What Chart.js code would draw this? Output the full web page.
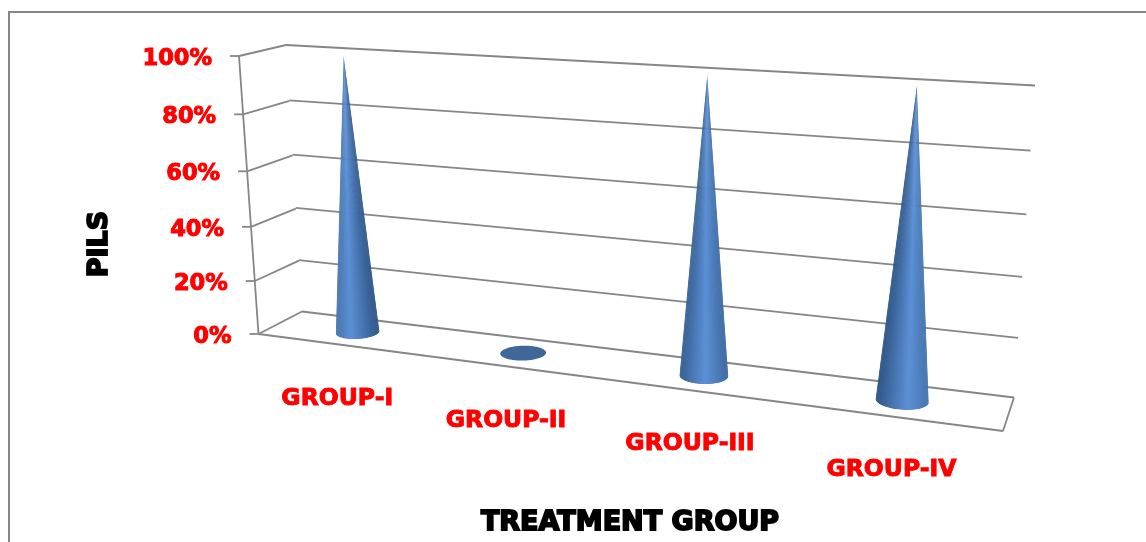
<!DOCTYPE html>
<html>
<head>
<meta charset="utf-8">
<style>
body { margin: 0; background: #fff; }
canvas { display: block; }
</style>
<script src="https://cdn.jsdelivr.net/npm/chart.js@4/dist/chart.umd.min.js"></script>
</head>
<body>
<canvas id="grafico" width="1146" height="542"></canvas>
<script>
const categories = ['GROUP-I', 'GROUP-II', 'GROUP-III', 'GROUP-IV'];
const pilsValues = [100, 0, 100, 100];
const tickValues = [0, 20, 40, 60, 80, 100];
const tickLabels = ['0%', '20%', '40%', '60%', '80%', '100%'];
const xTitle = 'TREATMENT GROUP';
const yTitle = 'PILS';

// corners of the 3D box on the page: bottom-left, bottom-right, top-right, top-left
const backWall = [[302, 311.5], [1014, 397.5], [1035, 85.5], [286, 45]];
const sideWall = [[258.5, 334], [302, 311.5], [286, 45], [239, 56]];
const floorPlane = [[258.5, 334], [1003, 431], [1014, 397.5], [302, 311.5]];
const midPlane = [[280, 322.5], [1008.5, 414], [1030, 91], [262.5, 51]];

const lineColor = '#868686';
const red = '#ff0000';
const tickFont = 'bold 22.5px "DejaVu Sans"';
const groupFont = 'bold 23.5px "DejaVu Sans"';
const titleFont = 'bold 27px "DejaVu Sans"';

// maps the unit square onto a quad (perspective)
function quadMap(q) {
    const [p0, p1, p2, p3] = q;
    const dx1 = p1[0] - p2[0], dx2 = p3[0] - p2[0], sx = p0[0] - p1[0] + p2[0] - p3[0];
    const dy1 = p1[1] - p2[1], dy2 = p3[1] - p2[1], sy = p0[1] - p1[1] + p2[1] - p3[1];
    const den = dx1 * dy2 - dx2 * dy1;
    const g = (sx * dy2 - dx2 * sy) / den;
    const h = (dx1 * sy - sx * dy1) / den;
    const a = p1[0] - p0[0] + g * p1[0], b = p3[0] - p0[0] + h * p3[0];
    const d = p1[1] - p0[1] + g * p1[1], e = p3[1] - p0[1] + h * p3[1];
    return function(u, v) {
        const w = g * u + h * v + 1;
        return { x: (a * u + b * v + p0[0]) / w, y: (d * u + e * v + p0[1]) / w };
    };
}

const onBack = quadMap(backWall);
const onSide = quadMap(sideWall);
const onFloor = quadMap(floorPlane);
const onMid = quadMap(midPlane);

function segment(ctx, a, b) {
    ctx.beginPath();
    ctx.moveTo(a.x, a.y);
    ctx.lineTo(b.x, b.y);
    ctx.stroke();
}

function heavyText(ctx, text, x, y) {
    ctx.fillText(text, x, y);
    ctx.strokeText(text, x, y);
}

function mix(c1, c2, t) {
    return c1.map((c, i) => c + (c2[i] - c) * t);
}

function rgb(c) {
    return 'rgb(' + c.map(Math.round).join(',') + ')';
}

function drawCone(ctx, u, v, widthU) {
    const depth = 0.27;
    const center = onMid(u, 0), floorCenter = onFloor(u, 0.5);
    const pts = [];
    for (let i = 0; i < 120; i++) {
        const t = i / 120 * Math.PI * 2;
        const p = onFloor(u + Math.cos(t) * widthU / 2, 0.5 + Math.sin(t) * depth);
        pts.push({ x: center.x + p.x - floorCenter.x, y: center.y + p.y - floorCenter.y });
    }
    if (v <= 0) {
        ctx.fillStyle = '#3f6797';
        ctx.beginPath();
        pts.forEach(p => ctx.lineTo(p.x, p.y));
        ctx.closePath();
        ctx.fill();
        return;
    }
    const apex = onMid(u, v);
    // tangent points seen from the apex
    let iLeft = 0, iRight = 0, maxA = -Infinity, minA = Infinity;
    pts.forEach((p, i) => {
        const a = Math.atan2(p.x - apex.x, p.y - apex.y);
        if (a > maxA) { maxA = a; iRight = i; }
        if (a < minA) { minA = a; iLeft = i; }
    });
    // front arc, going from right tangent to left tangent through the lower side
    const arc = [];
    let i = iRight;
    let guard = 0;
    const step = pts[(iRight + 1) % 120].y > pts[iRight].y ? 1 : -1;
    while (i !== iLeft && guard++ < 120) {
        arc.push(pts[i]);
        i = (i + step + 120) % 120;
    }
    arc.push(pts[iLeft]);

    ctx.save();
    ctx.beginPath();
    ctx.moveTo(apex.x, apex.y);
    arc.forEach(p => ctx.lineTo(p.x, p.y));
    ctx.closePath();
    ctx.clip();

    const edgeLight = [74, 122, 179], edgeDark = [44, 81, 128], peak = [92, 144, 214];
    const leftEdge = mix(edgeLight, edgeDark, u);
    const rightEdge = mix(edgeDark, edgeLight, u);
    const peakAt = 0.3 + 0.35 * u;
    const xL = pts[iLeft].x, xR = pts[iRight].x;
    for (let k = 0; k < arc.length - 1; k++) {
        const next = arc[Math.min(k + 2, arc.length - 1)];
        const s = ((arc[k].x + arc[k + 1].x) / 2 - xL) / (xR - xL);
        const c = s < peakAt ? mix(leftEdge, peak, s / peakAt) : mix(peak, rightEdge, (s - peakAt) / (1 - peakAt));
        ctx.fillStyle = rgb(c);
        ctx.beginPath();
        ctx.moveTo(apex.x, apex.y);
        ctx.lineTo(arc[k].x, arc[k].y);
        ctx.lineTo(next.x, next.y);
        ctx.closePath();
        ctx.fill();
    }
    ctx.restore();
}

// the category and value scales stay hidden, their pixels are projected into the 3D box
const box3d = {
    id: 'box3d',
    beforeDatasetsDraw(chart) {
        const ctx = chart.ctx, area = chart.chartArea, yScale = chart.scales.y, xScale = chart.scales.x;
        const toV = val => (area.bottom - yScale.getPixelForValue(val)) / area.height;
        const toU = idx => (xScale.getPixelForValue(idx) - area.left) / area.width;
        ctx.save();

        // marco
        ctx.strokeStyle = lineColor;
        ctx.lineWidth = 2;
        ctx.beginPath();
        ctx.moveTo(9, 542);
        ctx.lineTo(9, 12);
        ctx.lineTo(1146, 12);
        ctx.stroke();

        ctx.lineWidth = 1.8;
        tickValues.forEach(val => {
            const v = toV(val);
            const front = onSide(0, v);
            segment(ctx, onBack(0, v), onBack(1, v));
            segment(ctx, front, onSide(1, v));
            segment(ctx, { x: front.x - 9, y: front.y }, front);
        });
        segment(ctx, onSide(0, 0), onSide(0, 1));
        segment(ctx, onFloor(0, 0), onFloor(1, 0));
        segment(ctx, onFloor(1, 0), onFloor(1, 1));

        ctx.fillStyle = ctx.strokeStyle = red;
        ctx.lineWidth = 1;
        ctx.textBaseline = 'middle';
        ctx.font = tickFont;
        ctx.textAlign = 'right';
        tickValues.forEach((val, i) => {
            const front = onSide(0, toV(val));
            heavyText(ctx, tickLabels[i], front.x - 27, front.y + 3);
        });
        ctx.font = groupFont;
        ctx.textAlign = 'center';
        categories.forEach((name, i) => {
            const u = toU(i), p = onMid(u, 0);
            heavyText(ctx, name, p.x - 22 + 13 * u, p.y + 66 + 4 * u);
        });

        ctx.fillStyle = ctx.strokeStyle = '#000';
        ctx.lineWidth = 1.8;
        ctx.font = titleFont;
        heavyText(ctx, xTitle, 630, 523);
        ctx.translate(100, 244);
        ctx.rotate(-Math.PI / 2);
        heavyText(ctx, yTitle, 0, 0);
        ctx.restore();
    },
    afterDatasetsDraw(chart) {
        const ctx = chart.ctx, area = chart.chartArea;
        ctx.save();
        chart.getDatasetMeta(0).data.forEach(bar => {
            const u = (bar.x - area.left) / area.width;
            const v = (area.bottom - bar.y) / area.height;
            drawCone(ctx, u, v, bar.width / area.width);
        });
        ctx.restore();
    }
};

document.addEventListener('DOMContentLoaded', function() {
    const ctx = document.getElementById('grafico').getContext('2d');
    new Chart(ctx, {
        type: 'bar',
        data: {
            labels: categories,
            datasets: [{
                label: 'PILS',
                data: pilsValues,
                backgroundColor: 'transparent',
                categoryPercentage: 1,
                barPercentage: 0.245
            }]
        },
        options: {
            responsive: false,
            animation: false,
            layout: { padding: 0 },
            plugins: {
                legend: { display: false },
                tooltip: { enabled: false }
            },
            scales: {
                x: { display: false },
                y: { display: false, min: 0, max: 100 }
            }
        },
        plugins: [box3d]
    });
});
</script>
</body>
</html>
